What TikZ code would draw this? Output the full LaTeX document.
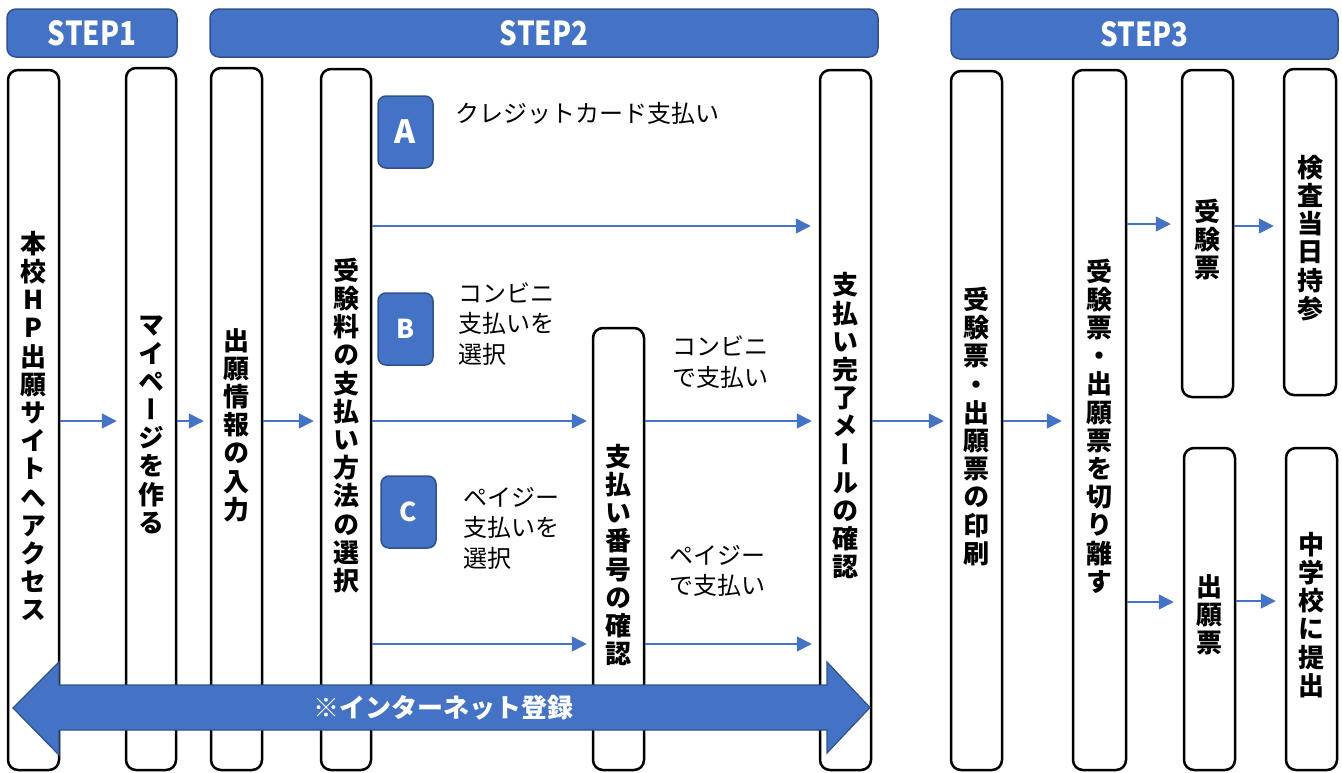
\documentclass[tikz,border=0pt]{standalone}
\usepackage{fontspec}
\usepackage{graphicx}
\newfontfamily\jp{Noto Sans CJK JP}
\newfontfamily\jpv[RawFeature=+vert]{Noto Sans CJK JP}
\usetikzlibrary{arrows.meta}
\definecolor{stepblue}{HTML}{4472C4}
\definecolor{stepedge}{HTML}{2F528F}
\newcommand{\narrow}[1]{\scalebox{0.84}[1]{#1}}
\tikzset{
  vbox/.style={draw=black, line width=2.5pt, rounded corners=10pt, fill=white, inner sep=0pt},
  vtxt/.style={inner sep=0pt, align=center, yshift=-6pt,
    font=\jpv\bfseries\fontsize{26}{28.2}\selectfont},
  hdr/.style={draw=stepedge, fill=stepblue, line width=1.5pt, rounded corners=9pt, text=white, inner sep=0pt,
    font=\jp\bfseries\fontsize{33}{33}\selectfont},
  badge/.style={draw=stepedge, fill=stepblue, line width=1.5pt, rounded corners=8pt, text=white, inner sep=0pt,
    minimum width=55pt, minimum height=72pt, font=\jp\bfseries},
  arr/.style={draw=stepblue, line width=1.5pt, -{Triangle[length=15pt,width=15pt]}, shorten >=6pt},
  lbl/.style={font=\jp\fontsize{24}{30.5}\selectfont, align=left, anchor=west, inner sep=0pt}
}
\begin{document}
\begin{tikzpicture}[x=1pt,y=-1pt]
\useasboundingbox (0,0) rectangle (1342,772);
\fill[white] (0,0) rectangle (1342,772);
% headers
\node[hdr, minimum width=170pt, minimum height=48pt] (s1) at (92,33) {\narrow{STEP1}};
\node[hdr, minimum width=668pt, minimum height=48pt] (s2) at (544,33) {\narrow{STEP2}};
\node[hdr, minimum width=387pt, minimum height=50pt] (s3) at (1144.5,34) {\narrow{STEP3}};
% boxes
\node[vbox, minimum width=51pt, minimum height=700pt, label={[vtxt]center:{本\\校\\H\\P\\出\\願\\サ\\イ\\ト\\へ\\ア\\ク\\セ\\ス}}] (b1) at (33.5,420) {};
\node[vbox, minimum width=50pt, minimum height=702pt, label={[vtxt]center:{マ\\イ\\ペ\\ー\\ジ\\を\\作\\る}}] (b2) at (151,419) {};
\node[vbox, minimum width=51pt, minimum height=702pt, label={[vtxt]center:{出\\願\\情\\報\\の\\入\\力}}] (b3) at (236.5,419) {};
\node[vbox, minimum width=50pt, minimum height=701pt, label={[vtxt]center:{受\\験\\料\\の\\支\\払\\い\\方\\法\\の\\選\\択}}] (b4) at (346,419.5) {};
\node[vbox, minimum width=51pt, minimum height=442pt, label={[vtxt]center:{支\\払\\い\\番\\号\\の\\確\\認}}] (b5) at (618.5,549) {};
\node[vbox, minimum width=51pt, minimum height=700pt, label={[vtxt]center:{支\\払\\い\\完\\了\\メ\\ー\\ル\\の\\確\\認}}] (b6) at (845.5,420) {};
\node[vbox, minimum width=51pt, minimum height=699pt, label={[vtxt]center:{受\\験\\票\\・\\出\\願\\票\\の\\印\\刷}}] (b7) at (976.5,420.5) {};
\node[vbox, minimum width=53pt, minimum height=700pt, label={[vtxt]center:{受\\験\\票\\・\\出\\願\\票\\を\\切\\り\\離\\す}}] (b8) at (1099.5,420) {};
\node[vbox, minimum width=51pt, minimum height=327pt, label={[vtxt]center:{受\\験\\票}}] (b9) at (1207.5,233.5) {};
\node[vbox, minimum width=52pt, minimum height=326pt, label={[vtxt]center:{検\\査\\当\\日\\持\\参}}] (b10) at (1310,232) {};
\node[vbox, minimum width=51pt, minimum height=322pt, label={[vtxt]center:{出\\願\\票}}] (b11) at (1209.5,609) {};
\node[vbox, minimum width=51pt, minimum height=322pt, label={[vtxt]center:{中\\学\\校\\に\\提\\出}}] (b12) at (1311.5,609) {};
% badges
\node[badge, font=\jp\bfseries\fontsize{32}{32}\selectfont] (bA) at (405.5,132) {A};
\node[badge, font=\jp\bfseries\fontsize{26}{26}\selectfont] (bB) at (405.5,329) {B};
\node[badge, font=\jp\bfseries\fontsize{26}{26}\selectfont] (bC) at (408.5,512) {C};
% labels
\node[lbl] (tA) at (455,113) {クレジットカード支払い};
\node[lbl] (tB) at (458,324) {コンビニ\\支払いを\\選択};
\node[lbl] (tC) at (463,528) {ペイジー\\支払いを\\選択};
\node[lbl] (tB2) at (672,362) {コンビニ\\で支払い};
\node[lbl] (tC2) at (669,571) {ペイジー\\で支払い};
% levels
\coordinate (yM) at (0,421);
\coordinate (yA) at (0,226);
\coordinate (yC) at (0,644);
\coordinate (y9) at (0,224);
\coordinate (y10) at (0,226);
\coordinate (y11) at (0,602);
\coordinate (y12) at (0,601);
% arrows
\draw[arr, shorten >=8pt] (b1.east |- yM) -- (b2.west |- yM);
\draw[arr] (b2.east |- yM) -- (b3.west |- yM);
\draw[arr] (b3.east |- yM) -- (b4.west |- yM);
\draw[arr, shorten >=8pt] (b4.east |- yA) -- (b6.west |- yA);
\draw[arr, shorten >=5pt] (b4.east |- yM) -- (b5.west |- yM);
\draw[arr, shorten >=7pt] (b5.east |- yM) -- (b6.west |- yM);
\draw[arr, shorten >=5pt] (b4.east |- yC) -- (b5.west |- yC);
\draw[arr, shorten >=7pt] (b5.east |- yC) -- (b6.west |- yC);
\draw[arr] (b6.east |- yM) -- (b7.west |- yM);
\draw[arr, shorten >=10pt] (b7.east |- yM) -- (b8.west |- yM);
\draw[arr, shorten >=10pt] (b8.east |- y9) -- (b9.west |- y9);
\draw[arr, shorten >=9pt] (b9.east |- y10) -- (b10.west |- y10);
\draw[arr, shorten >=9pt] (b8.east |- y11) -- (b11.west |- y11);
\draw[arr, shorten >=9pt] (b11.east |- y12) -- (b12.west |- y12);
% big double arrow
\filldraw[fill=stepblue, draw=stepedge, line width=1.2pt, line join=miter]
  (13,708) -- (59,662) -- (59,685) -- (827,685) -- (827,662) -- (870,707.5) -- (827,753) -- (827,730) -- (59,730) -- (59,755) -- cycle;
\node[text=white, inner sep=0pt, font=\jp\bfseries\fontsize{26}{26}\selectfont] (net) at (443,708) {※インターネット登録};
\end{tikzpicture}
\end{document}
